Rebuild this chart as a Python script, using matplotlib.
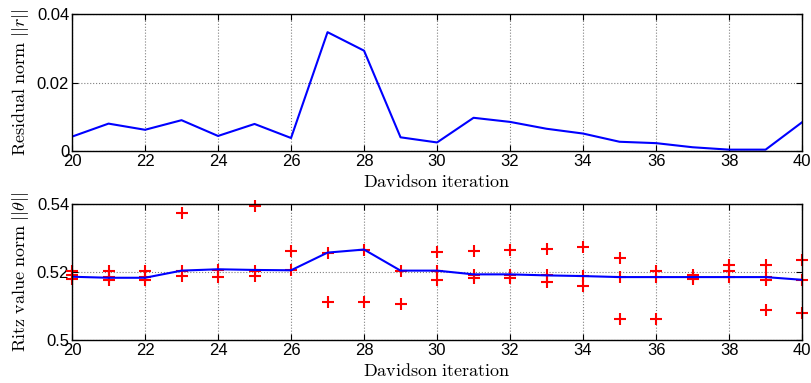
import numpy as np
import matplotlib.pyplot as plt

plt.rcParams['mathtext.fontset'] = 'cm'
plt.rcParams['font.family'] = ['Liberation Sans', 'DejaVu Sans']

iters = np.arange(20, 41)

residual = [0.0042, 0.0080, 0.0062, 0.0090, 0.0044, 0.0079, 0.0038, 0.0347,
            0.0293, 0.0040, 0.0025, 0.0097, 0.0085, 0.0065, 0.0051, 0.0027,
            0.0023, 0.0011, 0.0004, 0.0004, 0.0084]

ritz_norm = [0.5186, 0.5183, 0.5183, 0.5204, 0.5208, 0.5206, 0.5205, 0.5257,
             0.5266, 0.5204, 0.5204, 0.5193, 0.5193, 0.5190, 0.5188, 0.5185,
             0.5185, 0.5185, 0.5185, 0.5185, 0.5177]

# individual Ritz values per iteration
ritz_vals = {
    20: [0.5203, 0.5190, 0.5178],
    21: [0.5204, 0.5185, 0.5176],
    22: [0.5204, 0.5185, 0.5176],
    23: [0.5374, 0.5204, 0.5189],
    24: [0.5207, 0.5186],
    25: [0.5394, 0.5204, 0.5189],
    26: [0.5262, 0.5205],
    27: [0.5257, 0.5111],
    28: [0.5266, 0.5111],
    29: [0.5204, 0.5107],
    30: [0.5259, 0.5204, 0.5177],
    31: [0.5262, 0.5192, 0.5182],
    32: [0.5264, 0.5192, 0.5182],
    33: [0.5268, 0.5190, 0.5170],
    34: [0.5274, 0.5188, 0.5160],
    35: [0.5240, 0.5185, 0.5063],
    36: [0.5203, 0.5185, 0.5062],
    37: [0.5192, 0.5185, 0.5178],
    38: [0.5222, 0.5202, 0.5185],
    39: [0.5221, 0.5185, 0.5177, 0.5087],
    40: [0.5236, 0.5177, 0.5079],
}

fig = plt.figure(figsize=(8.11, 3.83), dpi=100)
ax1 = fig.add_axes([0.0888, 0.6057, 0.9002, 0.3577])
ax2 = fig.add_axes([0.0888, 0.1123, 0.9002, 0.3551])

ax1.plot(iters, residual, color='blue', lw=1.5)
ax1.set_ylim(0, 0.04)
ax1.set_yticks([0, 0.02, 0.04])
ax1.set_yticklabels(['0', '0.02', '0.04'])
ax1.set_ylabel(r'$\mathrm{Residual\ norm}\ ||r||$', fontsize=13)

for k, vals in ritz_vals.items():
    ax2.plot([k] * len(vals), vals, '+', color='red', ms=9, mew=1.5, clip_on=False)
ax2.plot(iters, ritz_norm, color='blue', lw=1.5)
ax2.set_ylim(0.5, 0.54)
ax2.set_yticks([0.5, 0.52, 0.54])
ax2.set_yticklabels(['0.5', '0.52', '0.54'])
ax2.set_ylabel(r'$\mathrm{Ritz\ value\ norm}\ ||\theta||$', fontsize=13)

for ax in (ax1, ax2):
    ax.set_xlim(20, 40)
    ax.set_xticks(range(20, 41, 2))
    ax.set_xlabel(r'$\mathrm{Davidson\ iteration}$', fontsize=13, labelpad=4)
    ax.grid(True, linestyle=':', color='gray', lw=0.8)
    ax.tick_params(direction='in', top=True, right=True, labelsize=12, length=4, pad=2)
    for s in ax.spines.values():
        s.set_linewidth(1.0)

fig.savefig('out.png', dpi=100)
